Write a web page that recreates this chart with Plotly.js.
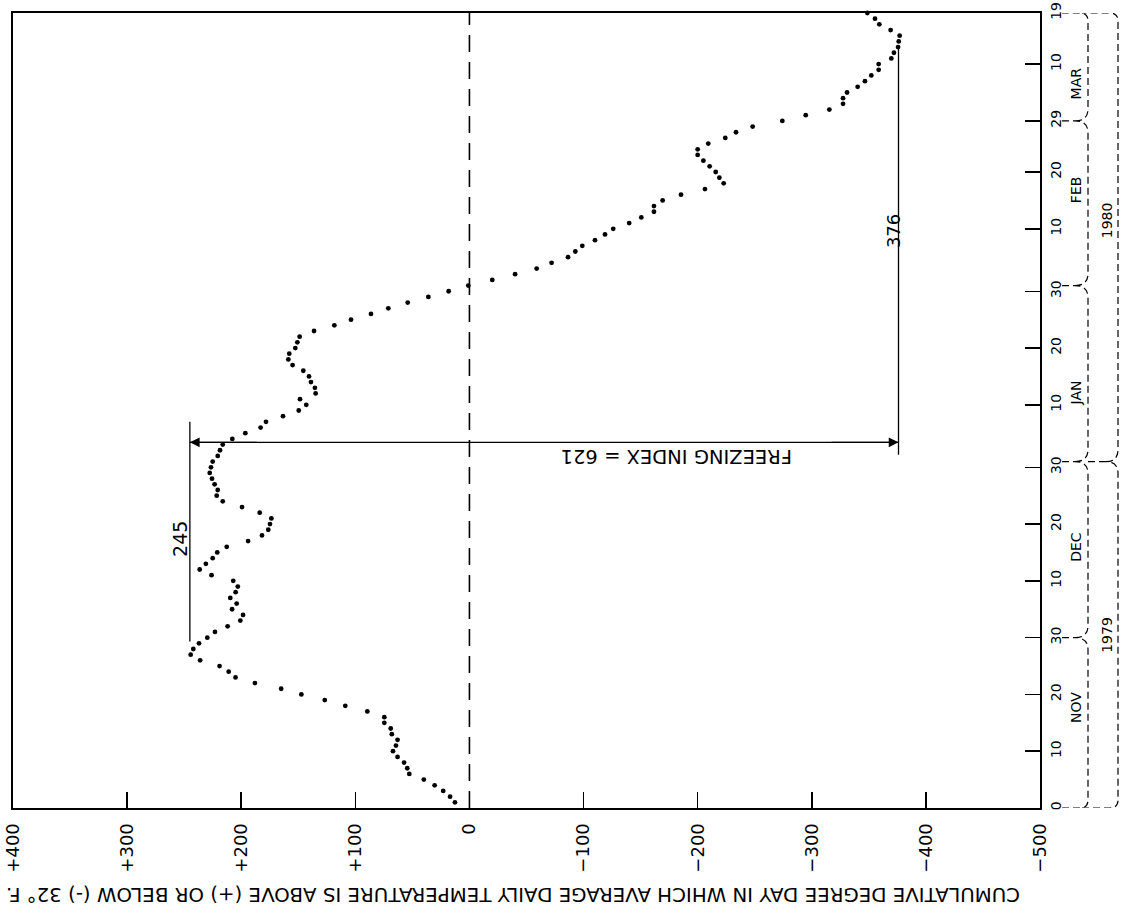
<!DOCTYPE html>
<html>
<head>
<meta charset="utf-8">
<script src="https://cdn.plot.ly/plotly-3.0.1.min.js"></script>
<style>html,body{margin:0;padding:0;background:#fff;}#chart{width:1121px;height:915px;}</style>
</head>
<body>
<div id="chart"></div>
<script>
// Cumulative degree-days, one value per day starting Nov 1, 1979 (day 1) to Mar 19, 1980 (day 140)
const degreeDays = [
  12.7, 17, 23, 30.5, 40, 52.7, 54.5, 57.3, 63, 67,
  64.4, 63, 68, 69, 74.6, 74.6, 89.5, 108.8, 126.8, 147.3,
  165, 188, 205, 211, 219, 236, 244.3, 242, 237, 229.7,
  223, 211.9, 200.8, 198.4, 208, 204, 209.6, 204.9, 203, 207,
  226, 236.4, 231, 225, 221, 212.7, 194, 181.8, 176.3, 174.8,
  173.6, 183.8, 199.3, 216.2, 221.5, 220.6, 223.3, 225.6, 227.6, 226.5,
  225, 220.6, 218.6, 216.2, 207.8, 196.4, 183, 178.3, 163.4, 149.6,
  143, 148.5, 134.8, 135.4, 138.9, 140.6, 145.6, 155, 158.7, 157.9,
  152.6, 150.8, 148.8, 136.2, 118.4, 103.8, 86.3, 71.1, 54.1, 36,
  18.2, 1, -20, -40, -58.9, -72, -86.4, -92.8, -98.9, -110,
  -118.8, -126, -140, -150.6, -161.7, -161.7, -169.3, -185.4, -206.4, -222.8,
  -219, -215.8, -210.5, -205, -200, -200, -209.3, -224.2, -233.6, -248.2,
  -274.2, -294.7, -315.4, -327.4, -327.4, -330.9, -340.2, -346.6, -352.2, -358.6,
  -358.6, -369.7, -372, -375.6, -376.2, -377, -369.1, -359.2, -355.4, -348.7
];
const dayIndex = degreeDays.map((_, i) => i + 1);

// value axis ticks
const valueTicks = [400, 300, 200, 100, 0, -100, -200, -300, -400, -500];
const valueTickText = ['+400', '+300', '+200', '+100', '0', '\u2212100', '\u2212200', '\u2212300', '\u2212400', '\u2212500'];

// date axis ticks (day index from Oct 31)
const dateTicks = [0, 10, 20, 30, 40, 50, 60, 71, 81, 91, 102, 112, 121, 131, 140];
const dateTickText = ['0', '10', '20', '30', '10', '20', '30', '10', '20', '30', '10', '20', '29', '10', '19'];

// month / year labels
const monthNames = ['NOV', 'DEC', 'JAN', 'FEB', 'MAR'];
const monthLabelDay = [17.6, 46, 73, 108.8, 127.6];
const monthEnds = [0, 30, 61, 92, 121, 140];
const yearNames = ['1979', '1980'];
const yearLabelDay = [30.5, 103.5];
const yearEnds = [0, 61, 140];

// annotation values
const peakValue = 245;
const minValue = -376;
const freezingIndex = 621;

const FONT = 'DejaVu Sans, Arial, sans-serif';
const L = 13, T = 13, W = 1027, H = 795;
const px = X => (X - L) / W;           // pixel x -> paper x
const dpx = p => p / (H / 140);         // pixel length -> days

// braces
const shapes = [];
const braceLine = {color: '#000', width: 1.2, dash: '7px,4px'};
function bracePath(lineX, tipX, endX, ends) {
  const R = dpx(12), r = dpx(8);
  const xl = px(lineX), xt = px(tipX), xe = px(endX), xc = px(lineX - 8);
  let p = '';
  const last = ends[ends.length - 1];
  for (let i = 0; i < ends.length - 1; i++) {
    const a = ends[i], b = ends[i + 1];
    if (a === 0) {
      p += `M ${xe},${a} L ${xc},${a} Q ${xl},${a} ${xl},${a + r} `;
    } else {
      p += `M ${xt},${a} Q ${xl},${a} ${xl},${a + R} `;
    }
    if (b === last) {
      p += `L ${xl},${b - r} Q ${xl},${b} ${xc},${b} L ${xe},${b} `;
    } else {
      p += `L ${xl},${b - R} Q ${xl},${b} ${xt},${b} `;
    }
  }
  return p;
}
shapes.push({type: 'path', xref: 'paper', yref: 'y', path: bracePath(1088, 1075, 1062, monthEnds), line: braceLine});
shapes.push({type: 'path', xref: 'paper', yref: 'y', path: bracePath(1118, 1106, 1082, yearEnds), line: braceLine});
// stems from tick labels to month tips
monthEnds.slice(1, -1).forEach(b => {
  shapes.push({type: 'line', xref: 'paper', yref: 'y', x0: px(1062), x1: px(1075), y0: b, y1: b, line: braceLine});
});
yearEnds.slice(1, -1).forEach(b => {
  shapes.push({type: 'line', xref: 'paper', yref: 'y', x0: px(1088), x1: px(1106), y0: b, y1: b, line: braceLine});
});

// zero line
shapes.push({type: 'line', xref: 'x', yref: 'y', x0: 0, x1: 0, y0: 0, y1: 140, line: {color: '#000', width: 1.6, dash: '17px,10px'}});
// 245 and 376 reference lines
shapes.push({type: 'line', xref: 'x', yref: 'y', x0: peakValue, x1: peakValue, y0: 29.3, y1: 68, line: {color: '#000', width: 1.3}});
shapes.push({type: 'line', xref: 'x', yref: 'y', x0: minValue, x1: minValue, y0: 62.2, y1: 133.8, line: {color: '#000', width: 1.3}});
// freezing index line
shapes.push({type: 'line', xref: 'x', yref: 'y', x0: peakValue, x1: minValue, y0: 64.4, y1: 64.4, line: {color: '#000', width: 1.3}});

const txt = (size) => ({family: FONT, size: size, color: '#000'});
const annotations = [
  {x: peakValue, y: 64.4, ax: peakValue - 60, ay: 64.4, axref: 'x', ayref: 'y', xref: 'x', yref: 'y', text: '', showarrow: true, arrowhead: 2, arrowsize: 1.5, arrowwidth: 1.3, arrowcolor: '#000'},
  {x: minValue, y: 64.4, ax: minValue + 60, ay: 64.4, axref: 'x', ayref: 'y', xref: 'x', yref: 'y', text: '', showarrow: true, arrowhead: 2, arrowsize: 1.5, arrowwidth: 1.3, arrowcolor: '#000'},
  {x: 253.6, y: 47.4, xref: 'x', yref: 'y', text: String(peakValue), textangle: -90, showarrow: false, xanchor: 'center', yanchor: 'middle', font: txt(19)},
  {x: -371.2, y: 101.6, xref: 'x', yref: 'y', text: String(-minValue), textangle: -90, showarrow: false, xanchor: 'center', yanchor: 'middle', font: txt(18)},
  {x: -181.9, y: 62.0, xref: 'x', yref: 'y', text: 'FREEZING INDEX = ' + freezingIndex, textangle: 180, showarrow: false, xanchor: 'center', yanchor: 'middle', font: txt(19.5)},
  {x: px(513.5), y: (808 - 895) / H, xref: 'paper', yref: 'paper', text: 'CUMULATIVE DEGREE DAY IN WHICH AVERAGE DAILY TEMPERATURE IS ABOVE (+) OR BELOW (-) 32\u00b0 F.', textangle: 180, showarrow: false, xanchor: 'center', yanchor: 'middle', font: txt(19.8)}
];
monthNames.forEach((m, i) => annotations.push({x: px(1076), y: monthLabelDay[i], xref: 'paper', yref: 'y', text: m, textangle: -90, showarrow: false, xanchor: 'center', yanchor: 'middle', font: txt(14)}));
yearNames.forEach((yv, i) => annotations.push({x: px(1107), y: yearLabelDay[i], xref: 'paper', yref: 'y', text: yv, textangle: -90, showarrow: false, xanchor: 'center', yanchor: 'middle', font: txt(14)}));

const trace = {
  x: degreeDays, y: dayIndex, type: 'scatter', mode: 'markers',
  marker: {color: '#000', size: 4.8}, cliponaxis: false, hoverinfo: 'skip'
};

const layout = {
  width: 1121, height: 915,
  margin: {l: L, r: 1121 - L - W, t: T, b: 915 - T - H, pad: 0},
  paper_bgcolor: '#fff', plot_bgcolor: '#fff',
  showlegend: false,
  font: {family: FONT, color: '#000'},
  xaxis: {
    range: [400, -500], autorange: false, tickmode: 'array', tickvals: valueTicks, ticktext: valueTickText,
    ticks: 'inside', ticklen: 16, tickwidth: 1.5, tickcolor: '#000', tickangle: -90, ticklabelstandoff: 6,
    tickfont: txt(18),
    showline: true, mirror: true, linecolor: '#000', linewidth: 2, showgrid: false, zeroline: false
  },
  yaxis: {
    range: [0, 140], autorange: false, side: 'right', tickmode: 'array', tickvals: dateTicks, ticktext: dateTickText,
    ticks: 'inside', ticklen: 15, tickwidth: 1.5, tickcolor: '#000', tickangle: -90, ticklabelstandoff: 2,
    tickfont: txt(14),
    showline: true, mirror: true, linecolor: '#000', linewidth: 2, showgrid: false, zeroline: false
  },
  shapes: shapes,
  annotations: annotations
};

Plotly.newPlot('chart', [trace], layout, {staticPlot: true, displayModeBar: false});
</script>
</body>
</html>
